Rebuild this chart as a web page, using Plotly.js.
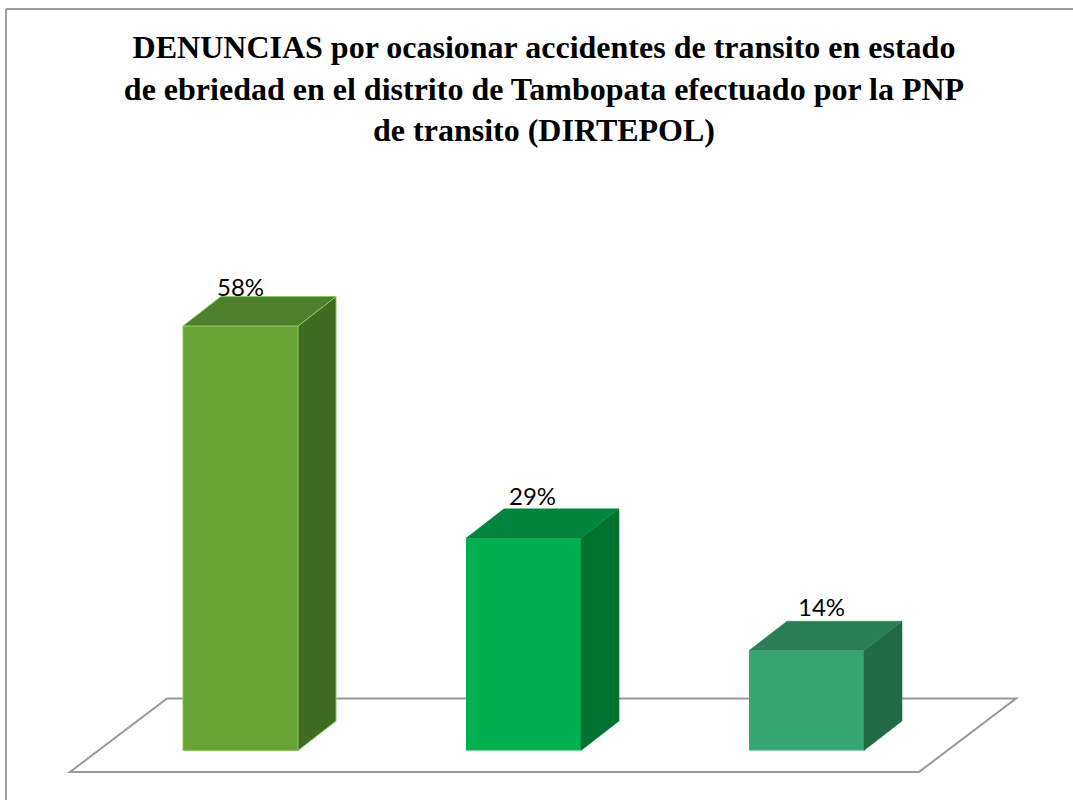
<!DOCTYPE html>
<html><head><meta charset="utf-8">
<script src="https://cdn.plot.ly/plotly-3.0.1.min.js"></script>
<style>html,body{margin:0;padding:0;background:#fff}#chart{width:1073px;height:800px}</style>
</head><body><div id="chart"></div>
<script>
// Data (labels as shown)
const categories = ["Barra 1", "Barra 2", "Barra 3"];
const values = [57.63, 28.81, 13.56];
const valueLabels = ["58%", "29%", "14%"];
const frontColors = ["#67A536", "#00B050", "#37A673"];
const topColors = ["#4E7F2C", "#00843E", "#2A7F57"];
const sideColors = ["#3F6B22", "#00722F", "#226B47"];
const edgeColors = ["#86C858", "#00B050", "#37A673"];

// 3D appearance parameters
const BAR_W = 0.4064, DX = 0.1343, DY = 4.0;
const idx = categories.map((c, i) => i);

const traces = [{
  type: 'bar', x: idx, y: values, width: BAR_W,
  marker: {color: frontColors, line: {color: edgeColors, width: [1, 0, 0]}},
  hoverinfo: 'none', showlegend: false
}];
idx.forEach(i => {
  const v = values[i], r = i + BAR_W / 2, l = i - BAR_W / 2;
  traces.push({
    type: 'scatter', mode: 'lines', fill: 'toself', fillcolor: sideColors[i],
    x: [r, r + DX, r + DX, r, r], y: [0, DY, v + DY, v, 0],
    line: {color: i === 0 ? edgeColors[0] : sideColors[i], width: i === 0 ? 1 : 0.5},
    hoverinfo: 'none', showlegend: false
  });
  traces.push({
    type: 'scatter', mode: 'lines', fill: 'toself', fillcolor: topColors[i],
    x: [l, r, r + DX, l + DX, l], y: [v, v, v + DY, v + DY, v],
    line: {color: i === 0 ? edgeColors[0] : topColors[i], width: i === 0 ? 1 : 0.5},
    hoverinfo: 'none', showlegend: false
  });
});

const labelXShift = [0, 9, 15];
const labelYShift = [10, 13, 15];
const annotations = idx.map(i => ({
  x: i, y: values[i] + DY, xref: 'x', yref: 'y', text: valueLabels[i], showarrow: false,
  xanchor: 'center', yanchor: 'middle', xshift: labelXShift[i], yshift: labelYShift[i],
  font: {family: 'Lato, "Open Sans", sans-serif', size: 24, color: '#000'}
}));

const layout = {
  width: 1073, height: 800,
  margin: {l: 0, r: 0, t: 0, b: 0},
  paper_bgcolor: '#fff', plot_bgcolor: '#fff',
  title: {
    text: '<b>DENUNCIAS por ocasionar accidentes de transito en estado<br>de ebriedad en el distrito de Tambopata efectuado por la PNP<br>de transito (DIRTEPOL)</b>',
    font: {family: '"Liberation Serif", "Times New Roman", serif', size: 32, color: '#000'},
    x: 0.507, xanchor: 'center', y: 1 - 58 / 800, yanchor: 'top', yref: 'container'
  },
  xaxis: {range: [-0.8498, 2.9417], visible: false, fixedrange: true},
  yaxis: {range: [-6.72, 101.89], visible: false, fixedrange: true},
  showlegend: false,
  annotations: annotations,
  shapes: [
    {type: 'path', xref: 'x', yref: 'y', layer: 'below',
     path: 'M -0.6025 -2.92 L 2.3975 -2.92 L 2.740 7.06 L -0.2597 7.06 Z',
     line: {color: '#999999', width: 2}, fillcolor: 'rgba(0,0,0,0)'},
    {type: 'line', xref: 'paper', yref: 'paper', x0: 6/1073, x1: 6/1073, y0: 0, y1: 1 - 9/800,
     line: {color: '#A0A0A0', width: 2}},
    {type: 'line', xref: 'paper', yref: 'paper', x0: 6/1073, x1: 1, y0: 1 - 9/800, y1: 1 - 9/800,
     line: {color: '#A0A0A0', width: 2}}
  ]
};
Plotly.newPlot('chart', traces, layout, {displayModeBar: false, staticPlot: true});
</script></body></html>
